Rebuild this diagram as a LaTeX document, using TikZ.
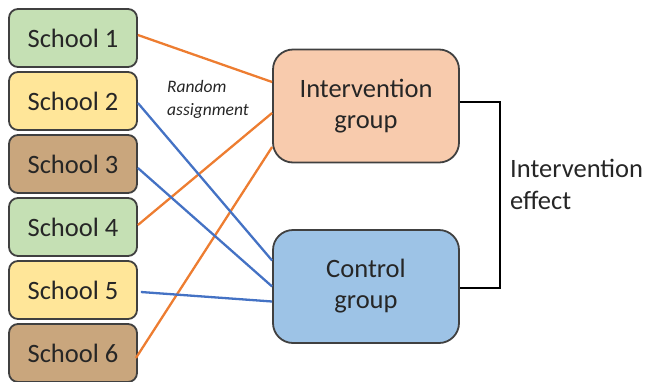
\documentclass[tikz,border=0pt]{standalone}
\usepackage{fontspec}
\setmainfont{Carlito}
\definecolor{sgreen}{HTML}{C5E0B4}
\definecolor{syellow}{HTML}{FFE699}
\definecolor{sbrown}{HTML}{C9A67D}
\definecolor{gorange}{HTML}{F8CBAD}
\definecolor{gblue}{HTML}{9DC3E6}
\definecolor{lorange}{HTML}{ED7D31}
\definecolor{lblue}{HTML}{4472C4}
\definecolor{edge}{HTML}{404040}
\definecolor{ink}{HTML}{262626}
\tikzset{
  school/.style={draw=edge, line width=1.8pt, rounded corners=9pt,
    minimum width=128pt, minimum height=58pt, inner sep=0pt,
    font=\fontsize{26.5}{30}\selectfont, text=ink},
  groupbox/.style={draw=edge, line width=1.8pt, rounded corners=20pt,
    minimum width=186pt, minimum height=113pt, inner sep=0pt, align=center,
    font=\fontsize{26.5}{31}\selectfont, text=ink},
  toint/.style={draw=lorange, line width=2.3pt},
  toctl/.style={draw=lblue, line width=2.3pt},
}
\begin{document}
\begin{tikzpicture}[x=1pt, y=-1pt]
\useasboundingbox (0,0) rectangle (648,381);

% schools
\node[school, fill=sgreen]  (s1) at (73,38)  {School 1};
\node[school, fill=syellow] (s2) at (73,101) {School 2};
\node[school, fill=sbrown]  (s3) at (73,164) {School 3};
\node[school, fill=sgreen]  (s4) at (73,227) {School 4};
\node[school, fill=syellow] (s5) at (73,290) {School 5};
\node[school, fill=sbrown]  (s6) at (73,353) {School 6};

% groups
\node[groupbox, fill=gorange] (int) at (366,106)   {Intervention\\group};
\node[groupbox, fill=gblue]   (ctl) at (366,286.5) {Control\\group};

% random assignment lines
\draw[toint] ([yshift=3pt]s1.east)  -- ([yshift=24pt]int.west);
\draw[toint] ([yshift=2pt]s4.east)  -- ([yshift=-7pt]int.west);
\draw[toint] ([xshift=-2pt,yshift=-5pt]s6.east) -- ([yshift=-41pt]int.west);
\draw[toctl] ([yshift=-2pt]s2.east) -- ([yshift=26pt]ctl.west);
\draw[toctl] ([yshift=-4pt]s3.east) -- ([yshift=0pt]ctl.west);
\draw[toctl] ([xshift=3pt,yshift=-2pt]s5.east) -- ([yshift=-15pt]ctl.west);

\node[font=\fontsize{17.5}{23}\selectfont\itshape, text=ink, align=left]
  (ra) at (208,99) {Random\\assignment};

% bracket between the two groups
\draw[black, line width=2.4pt] ([yshift=4pt]int.east) -- ++(40,0) |- ([yshift=-1.5pt]ctl.east);
\node[anchor=west, align=left, font=\fontsize{26.5}{32}\selectfont, text=ink, inner sep=0pt]
  (eff) at (510,184) {Intervention\\effect};
\end{tikzpicture}
\end{document}
